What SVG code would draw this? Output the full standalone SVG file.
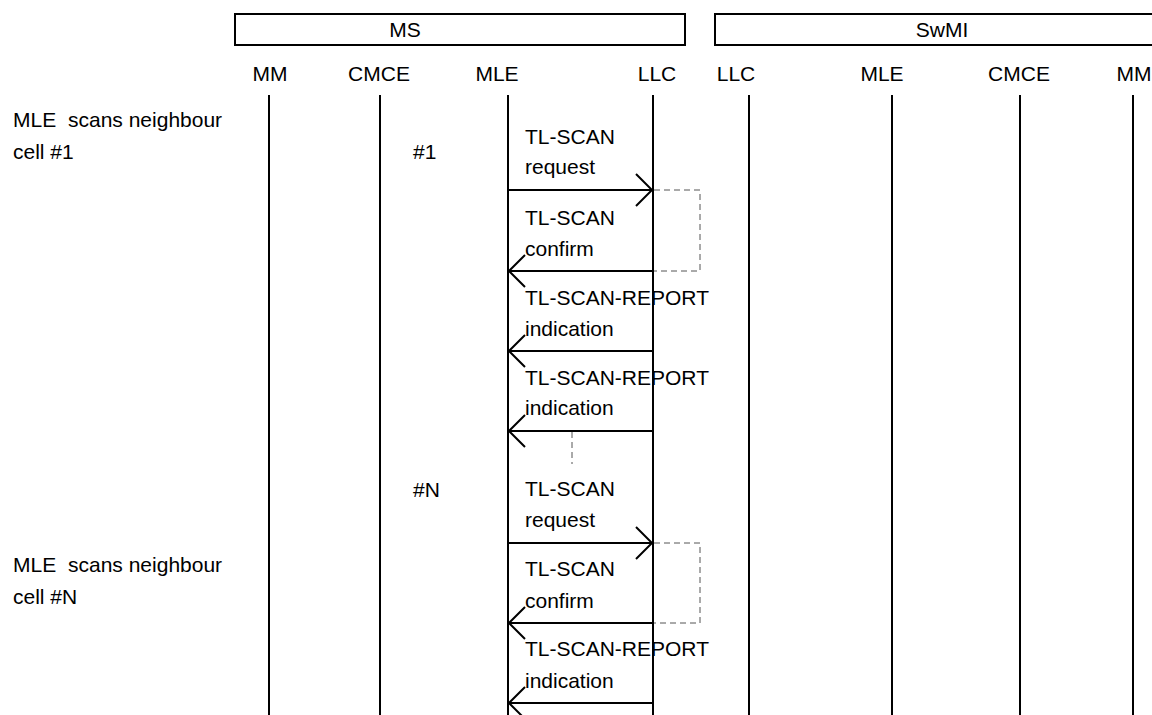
<svg xmlns="http://www.w3.org/2000/svg" width="1152" height="715" viewBox="0 0 1152 715">
<style>
text{font-family:"Liberation Sans",Arial,sans-serif;font-size:21px;fill:#000}
.mid{text-anchor:middle}
.box{fill:#fff;stroke:#000;stroke-width:2}
.life{stroke:#000;stroke-width:2}
.msg{stroke:#000;stroke-width:2;fill:none}
.dash{stroke:#555;stroke-width:1;fill:none;stroke-dasharray:6 4}
</style>
<defs>
<marker id="arr" markerUnits="userSpaceOnUse" viewBox="-20 -20 24 40" refX="0" refY="0" markerWidth="24" markerHeight="40" orient="auto">
<path d="M-16,-16 L0,0 L-16,16" fill="none" stroke="#000" stroke-width="2"/>
</marker>
</defs>
<rect width="1152" height="715" fill="#fff"/>
<g id="MS">
<rect class="box" x="235" y="14" width="450" height="31"/>
<text class="mid" x="405" y="37">MS</text>
</g>
<g id="SwMI">
<rect class="box" x="715" y="14" width="450" height="31"/>
<text class="mid" x="942" y="37">SwMI</text>
</g>
<g id="ms-mm"><text class="mid" x="270" y="81">MM</text><line class="life" x1="269" y1="95" x2="269" y2="715"/></g>
<g id="ms-cmce"><text class="mid" x="379" y="81">CMCE</text><line class="life" x1="380" y1="95" x2="380" y2="715"/></g>
<g id="ms-mle"><text class="mid" x="497" y="81">MLE</text><line class="life" x1="508" y1="95" x2="508" y2="715"/></g>
<g id="ms-llc"><text class="mid" x="657" y="81">LLC</text></g>
<g id="sw-llc"><text class="mid" x="736" y="81">LLC</text><line class="life" x1="749" y1="95" x2="749" y2="715"/></g>
<g id="sw-mle"><text class="mid" x="882" y="81">MLE</text><line class="life" x1="892" y1="95" x2="892" y2="715"/></g>
<g id="sw-cmce"><text class="mid" x="1019" y="81">CMCE</text><line class="life" x1="1020" y1="95" x2="1020" y2="715"/></g>
<g id="sw-mm"><text class="mid" x="1134" y="81">MM</text><line class="life" x1="1133" y1="95" x2="1133" y2="715"/></g>
<g id="notes">
<text x="13" y="127" xml:space="preserve">MLE  <tspan x="68">scans neighbour</tspan></text>
<text x="13" y="159">cell #1</text>
<text x="413" y="159">#1</text>
<text x="413" y="497">#N</text>
<text x="13" y="572" xml:space="preserve">MLE  <tspan x="68">scans neighbour</tspan></text>
<text x="13" y="604">cell #N</text>
</g>
<g id="labels">
<text x="525" y="144">TL-SCAN</text><text x="525" y="174">request</text>
<text x="525" y="225">TL-SCAN</text><text x="525" y="256">confirm</text>
<text x="525" y="305">TL-SCAN-REPORT</text><text x="525" y="336">indication</text>
<text x="525" y="385">TL-SCAN-REPORT</text><text x="525" y="415">indication</text>
<text x="525" y="496">TL-SCAN</text><text x="525" y="527">request</text>
<text x="525" y="576">TL-SCAN</text><text x="525" y="608">confirm</text>
<text x="525" y="656">TL-SCAN-REPORT</text><text x="525" y="688">indication</text>
</g>
<g id="connectors">
<line class="life" x1="653" y1="95" x2="653" y2="715"/>
<line class="msg" x1="508" y1="190" x2="652" y2="190" marker-end="url(#arr)"/>
<line class="msg" x1="653" y1="271" x2="509" y2="271" marker-end="url(#arr)"/>
<line class="msg" x1="653" y1="351" x2="509" y2="351" marker-end="url(#arr)"/>
<line class="msg" x1="653" y1="431" x2="509" y2="431" marker-end="url(#arr)"/>
<line class="msg" x1="508" y1="543" x2="652" y2="543" marker-end="url(#arr)"/>
<line class="msg" x1="653" y1="623" x2="509" y2="623" marker-end="url(#arr)"/>
<line class="msg" x1="653" y1="703" x2="509" y2="703" marker-end="url(#arr)"/>
<path class="dash" d="M654,190 H700 V271 H654"/>
<path class="dash" d="M654,543 H700 V623 H654"/>
<line class="dash" x1="572" y1="432" x2="572" y2="464"/>
</g>
</svg>
